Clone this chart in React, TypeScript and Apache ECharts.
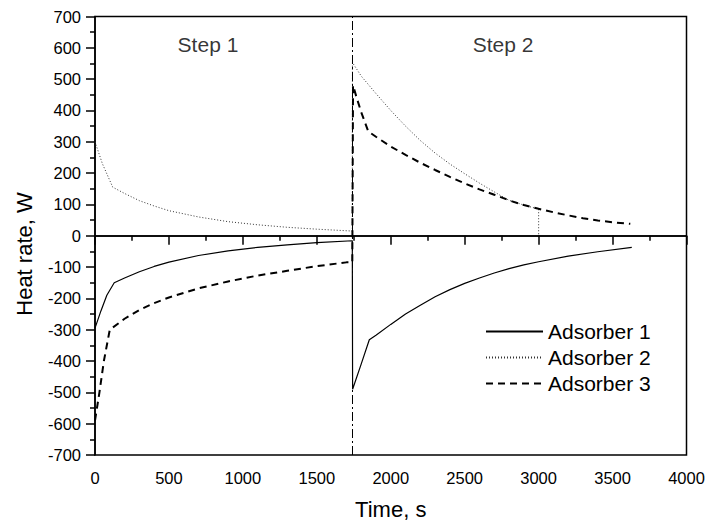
import React, { useEffect, useRef } from "react";
import * as echarts from "echarts";

const FONT = "Arial, 'Liberation Sans', Helvetica, sans-serif";

const seriesNames = ["Adsorber 1", "Adsorber 2", "Adsorber 3"];

// Adsorber 1 (solid)
const adsorber1: [number, number][] = [
  [0, -295], [40, -240], [80, -190], [130, -150], [200, -135], [300, -115],
  [400, -98], [500, -84], [700, -63], [900, -48], [1100, -37], [1300, -29],
  [1500, -22], [1740, -16],
  [1742, -490], [1800, -410], [1855, -332], [1900, -318], [2000, -283],
  [2100, -250], [2200, -222], [2300, -195], [2400, -172], [2500, -152],
  [2600, -135], [2700, -119], [2800, -105], [2900, -93], [3000, -83],
  [3200, -65], [3400, -51], [3630, -37],
];

// Adsorber 2 (dotted)
const adsorber2: [number, number][] = [
  [0, 300], [50, 230], [120, 155], [200, 135], [300, 112], [400, 95],
  [500, 80], [700, 60], [900, 45], [1100, 35], [1300, 27], [1500, 21],
  [1740, 15],
  [1741, 553], [1800, 510], [1900, 454], [2000, 400], [2100, 350],
  [2200, 304], [2300, 264], [2400, 229], [2500, 198], [2600, 168],
  [2700, 140], [2800, 113], [2900, 98], [3000, 85], [3000, 0],
];

// Adsorber 3 (dashed)
const adsorber3: [number, number][] = [
  [0, -590], [30, -500], [60, -400], [100, -300], [200, -265], [300, -237],
  [400, -215], [500, -197], [700, -168], [900, -146], [1100, -127],
  [1300, -112], [1500, -97], [1700, -85],
  [1740, -85], [1745, 480], [1770, 440], [1800, 395], [1848, 333],
  [1900, 316], [2000, 285], [2100, 258], [2200, 233], [2300, 210],
  [2400, 188], [2500, 167], [2600, 148], [2700, 131], [2800, 113],
  [2900, 98], [3000, 86], [3100, 75], [3200, 65], [3300, 56], [3400, 49],
  [3500, 43], [3620, 38],
];

const switchTime = 1740;
const stepLabels: [number, number, string][] = [
  [764, 610, "Step 1"],
  [2759, 610, "Step 2"],
];

const xAxisName = "Time, s";
const yAxisName = "Heat rate, W";

export default function App() {
  const ref = useRef<HTMLDivElement>(null);
  useEffect(() => {
    if (!ref.current) return;
    const chart = echarts.init(ref.current, undefined, { renderer: "svg" });
    const axisCommon = {
      axisLine: { show: true, lineStyle: { color: "#000", width: 1.5 } },
      axisTick: { show: true, inside: false, length: 9, lineStyle: { color: "#000", width: 1.5 } },
      minorTick: { show: true, splitNumber: 2, length: 5, lineStyle: { color: "#000", width: 1.5 } },
      splitLine: { show: false },
      axisLabel: {
        color: "#000", fontSize: 16.5, fontFamily: FONT, margin: 14,
        formatter: (v: number) => String(v),
      },
      nameTextStyle: { color: "#000", fontSize: 22, fontFamily: FONT },
    };
    chart.setOption({
      animation: false,
      backgroundColor: "#fff",
      grid: {
        left: 95, right: 21.5, top: 16.5, bottom: 72,
        show: true, borderColor: "#000", borderWidth: 1.5,
      },
      xAxis: {
        type: "value", min: 0, max: 4000, interval: 500,
        name: xAxisName, nameLocation: "middle", nameGap: 43,
        ...axisCommon,
      },
      yAxis: {
        type: "value", min: -700, max: 700, interval: 100,
        name: "",
        ...axisCommon,
      },
      graphic: [
        {
          type: "text", x: 24, y: 254, rotation: Math.PI / 2, silent: true,
          style: {
            text: yAxisName, fill: "#000", fontSize: 22, fontFamily: FONT,
            align: "center", verticalAlign: "middle",
          },
        },
      ],
      legend: {
        orient: "vertical", left: 485, top: 320, padding: 0,
        itemWidth: 57, itemHeight: 14, itemGap: 3,
        itemStyle: { color: "rgba(0,0,0,0)", borderColor: "rgba(0,0,0,0)", borderWidth: 0 },
        textStyle: { color: "#000", fontSize: 21, lineHeight: 23, fontFamily: FONT },
        data: seriesNames,
      },
      series: [
        {
          name: seriesNames[0], type: "line", data: adsorber1, symbol: "none",
          lineStyle: { color: "#000", width: 1.2, type: "solid" },
          itemStyle: { color: "#000" },
          markLine: {
            silent: true, symbol: "none", label: { show: false },
            data: [
              { yAxis: 0, lineStyle: { color: "#000", width: 1.5, type: "solid" } },
              { xAxis: switchTime, lineStyle: { color: "#000", width: 1, type: [9, 3, 2, 3] } },
            ],
          },
        },
        {
          name: seriesNames[1], type: "line", data: adsorber2, symbol: "none",
          lineStyle: { color: "#333", width: 1, type: [1, 2] },
          itemStyle: { color: "#333" },
        },
        {
          name: seriesNames[2], type: "line", data: adsorber3, symbol: "none",
          lineStyle: { color: "#000", width: 2, type: [7, 5] },
          itemStyle: { color: "#000" },
        },
        {
          name: "steps", type: "scatter", symbolSize: 0, silent: true,
          data: stepLabels.map((s) => ({ value: [s[0], s[1]], name: s[2] })),
          label: {
            show: true, position: "inside", formatter: (p: any) => p.name,
            color: "#000", fontSize: 21, fontFamily: FONT,
          },
        },
      ],
    });
    return () => chart.dispose();
  }, []);
  return (
    <div
      ref={ref}
      style={{ position: "fixed", left: 0, top: 0, width: 708, height: 527, background: "#fff" }}
    />
  );
}
